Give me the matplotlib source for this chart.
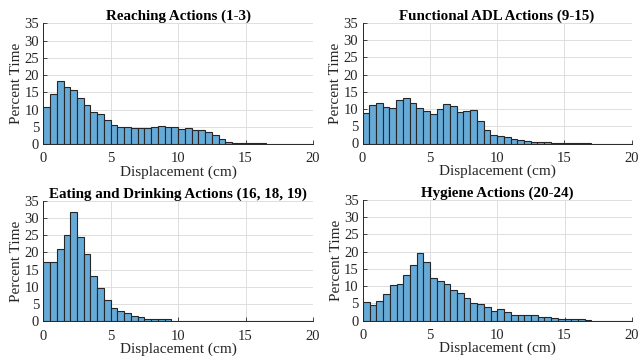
import numpy as np
import matplotlib
matplotlib.use("Agg")
import matplotlib.pyplot as plt

bin_edges = np.arange(0, 20.5, 0.5)

titles = ["Reaching Actions (1-3)", "Functional ADL Actions (9-15)",
          "Eating and Drinking Actions (16, 18, 19)", "Hygiene Actions (20-24)"]

reaching = [10.8, 14.4, 18.2, 16.4, 15.6, 13.2, 11.2, 9.4, 8.6, 6.9,
            5.5, 5.0, 4.9, 4.6, 4.6, 4.7, 4.8, 5.1, 4.9, 4.9,
            4.4, 4.5, 4.2, 4.2, 3.5, 2.7, 1.5, 0.6, 0.4, 0.3,
            0.3, 0.2, 0.15, 0.1, 0.0, 0.0, 0.0, 0.0, 0.0, 0.0]
functional = [8.8, 11.1, 11.9, 10.5, 10.3, 12.7, 13.2, 11.8, 10.2, 9.4,
              8.7, 10.0, 11.4, 11.0, 9.2, 9.4, 9.7, 6.5, 3.8, 2.4,
              2.1, 1.8, 1.4, 1.1, 0.7, 0.5, 0.4, 0.3, 0.25, 0.2,
              0.15, 0.12, 0.08, 0.05, 0.0, 0.0, 0.0, 0.0, 0.0, 0.0]
eating = [17.3, 17.1, 21.0, 25.0, 31.6, 24.5, 19.4, 13.1, 9.6, 6.2,
          4.0, 2.9, 2.4, 1.5, 1.2, 0.8, 0.8, 0.7, 0.7, 0.1,
          0.05, 0.2, 0.0, 0.0, 0.0, 0.0, 0.0, 0.0, 0.0, 0.0,
          0.0, 0.0, 0.0, 0.0, 0.0, 0.0, 0.0, 0.0, 0.0, 0.0]
hygiene = [5.3, 4.4, 5.8, 7.7, 10.3, 10.7, 13.1, 16.0, 19.5, 16.9,
           12.3, 11.4, 10.5, 8.8, 8.1, 6.4, 5.0, 4.8, 4.0, 2.8,
           3.3, 2.6, 1.6, 1.6, 1.6, 1.5, 1.1, 1.0, 0.7, 0.5,
           0.3, 0.3, 0.3, 0.2, 0.0, 0.0, 0.0, 0.0, 0.0, 0.0]
series = [reaching, functional, eating, hygiene]

xticks = [0, 5, 10, 15, 20]
yticks = [0, 5, 10, 15, 20, 25, 30, 35]

plt.rcParams['font.family'] = ['Liberation Serif', 'DejaVu Serif']

fig = plt.figure(figsize=(6.4, 3.61), dpi=100)
W, H = 640, 361
boxes = [(43.3, 23.3, 313, 144), (362.5, 23, 631.7, 143.5),
         (43.3, 200.7, 313, 321.3), (363, 200, 631.7, 320.5)]

face = (0.4, 0.668, 0.845)
edge = (0.15, 0.15, 0.15)
for (l, t, r, b), vals, title in zip(boxes, series, titles):
    ax = fig.add_axes([l / W, 1 - b / H, (r - l) / W, (b - t) / H])
    ax.hist(bin_edges[:-1], bins=bin_edges, weights=vals, color=face,
            edgecolor=edge, linewidth=0.8, zorder=3)
    ax.set_xlim(0, 20)
    ax.set_ylim(0, 35)
    ax.set_xticks(xticks)
    ax.set_yticks(yticks)
    ax.grid(True, color=(0.87, 0.87, 0.87), linewidth=0.7, zorder=0)
    ax.set_axisbelow(True)
    for s in ['top', 'right']:
        ax.spines[s].set_visible(False)
    for s in ['left', 'bottom']:
        ax.spines[s].set_color(edge)
        ax.spines[s].set_linewidth(0.7)
    ax.tick_params(direction='in', length=3, width=0.6, colors=edge,
                   labelsize=10.5, labelcolor='#262626', pad=3)
    ax.tick_params(axis='x', pad=6)
    ax.set_title(title, fontsize=10.8, fontweight='bold', pad=2)
    ax.set_xlabel("Displacement (cm)", fontsize=11, labelpad=0, color='#262626')
    ax.set_ylabel("Percent Time", fontsize=11, labelpad=1, color='#262626')

fig.savefig("out.png", dpi=100)
